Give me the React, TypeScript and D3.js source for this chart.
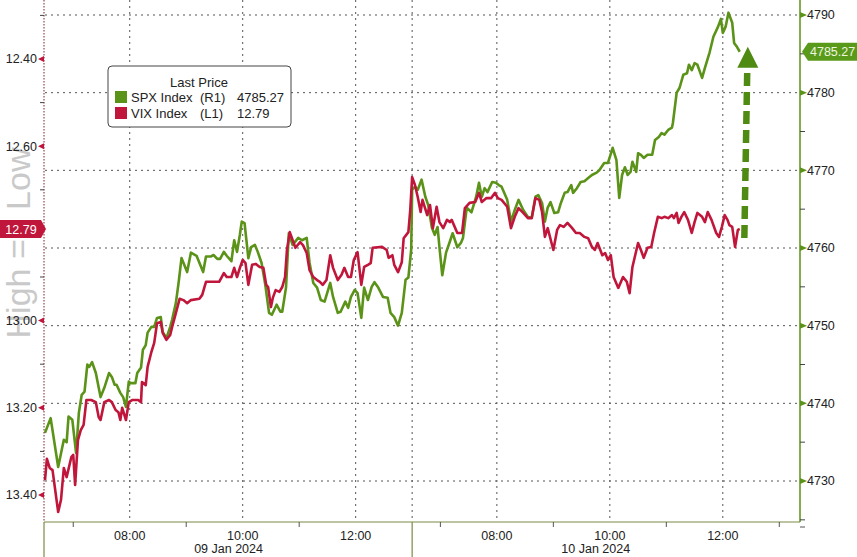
import * as d3 from "d3";

// time = minutes since 09 Jan 06:30 (10 Jan session opens at 390)
const spx: [number, number][] = [
  [0, 4736.2], [6, 4738.1], [14, 4731.8], [20, 4735.3], [23, 4735.0], [25, 4738.3], [29, 4737.9],
  [33, 4733.6], [36, 4738.8], [39, 4741.1], [42, 4741.5], [45, 4745.0], [47, 4744.7], [50, 4745.3],
  [54, 4743.9], [59, 4740.8], [63, 4742.0], [68, 4743.9], [71, 4743.4], [74, 4742.4], [76, 4742.4],
  [80, 4741.35], [83, 4740.8], [86, 4739.55], [89, 4742.8], [91, 4742.6], [96, 4742.6], [98, 4743.9],
  [102, 4744.6], [104, 4746.9], [107, 4747.5], [109, 4749.1], [113, 4749.85], [116, 4749.85],
  [119, 4751.0], [123, 4751.1], [125, 4749.2], [129, 4748.4], [133, 4749.85], [135, 4750.75],
  [139, 4752.9], [142, 4755.6], [145, 4758.7], [151, 4756.9], [155, 4759.4], [161, 4759.0],
  [164, 4758.1], [168, 4756.9], [171, 4758.9], [176, 4758.9], [179, 4759.1], [183, 4758.6],
  [186, 4758.6], [190, 4759.5], [193, 4759.0], [198, 4758.3], [201, 4761.0], [204, 4759.5],
  [207, 4761.7], [209, 4763.4], [212, 4763.2], [216, 4758.7], [219, 4760.1], [223, 4760.4],
  [226, 4759.5], [230, 4758.1], [234, 4755.25], [238, 4751.65], [241, 4751.4], [246, 4752.7],
  [250, 4751.8], [252, 4751.8], [256, 4754.9], [259, 4761.9], [263, 4760.4], [269, 4761.3],
  [273, 4761.0], [278, 4761.3], [281, 4758.1], [285, 4755.5], [289, 4754.9], [293, 4753.3],
  [297, 4753.1], [303, 4755.5], [306, 4753.7], [311, 4751.65], [314, 4751.8], [319, 4753.1],
  [322, 4752.3], [325, 4753.7], [329, 4754.6], [332, 4754.2], [336, 4751.0], [339, 4754.9],
  [343, 4753.3], [347, 4755.0], [350, 4755.6], [354, 4754.9], [359, 4753.7], [364, 4753.6],
  [367, 4751.65], [371, 4751.1], [375, 4750.0], [379, 4751.65], [383, 4755.9], [386, 4756.2],
  [389, 4759.8], [390, 4767.5], [393, 4767.9], [396, 4767.5], [400, 4768.8], [404, 4766.6],
  [407, 4765.55], [411, 4762.6], [414, 4761.7], [417, 4762.7], [419, 4760.1], [422, 4756.5],
  [426, 4759.4], [430, 4760.8], [433, 4761.9], [438, 4760.1], [442, 4760.7], [444, 4761.3],
  [448, 4765.2], [453, 4764.6], [458, 4766.6], [461, 4768.4], [464, 4766.6], [467, 4767.7],
  [470, 4767.2], [475, 4768.5], [479, 4768.4], [482, 4768.1], [485, 4767.9], [491, 4766.2],
  [495, 4763.4], [499, 4764.9], [503, 4766.2], [508, 4764.9], [513, 4764.0], [517, 4763.9],
  [521, 4766.6], [524, 4766.8], [528, 4765.8], [531, 4763.4], [534, 4765.2], [537, 4765.9],
  [541, 4764.5], [545, 4764.6], [548, 4765.8], [552, 4767.1], [555, 4767.2], [559, 4768.1],
  [561, 4767.1], [565, 4767.7], [569, 4768.5], [573, 4768.6], [577, 4769.0], [581, 4769.4],
  [586, 4769.7], [589, 4770.05], [594, 4770.95], [598, 4770.95], [603, 4772.9], [607, 4771.3],
  [610, 4766.45], [613, 4769.4], [616, 4770.4], [619, 4769.4], [622, 4769.8], [624, 4771.1],
  [628, 4769.8], [630, 4772.2], [633, 4772.0], [636, 4771.6], [640, 4772.0], [645, 4772.0],
  [648, 4773.9], [652, 4774.3], [655, 4774.8], [658, 4774.6], [662, 4775.2], [666, 4775.5],
  [667, 4776.1], [671, 4780.0], [674, 4780.6], [678, 4782.3], [682, 4782.5], [684, 4783.6],
  [687, 4782.9], [690, 4783.8], [693, 4783.6], [698, 4781.9], [701, 4783.2], [706, 4785.2],
  [710, 4787.2], [715, 4788.5], [718, 4789.5], [720, 4787.7], [723, 4788.5], [726, 4790.3],
  [730, 4789.0], [732, 4786.4], [735, 4785.9], [738, 4785.27],
];

const vix: [number, number][] = [
  [0, 13.366], [2, 13.317], [5, 13.338], [8, 13.343], [14, 13.439], [17, 13.411], [20, 13.338],
  [23, 13.359], [28, 13.313], [30, 13.308], [32, 13.377], [35, 13.274], [38, 13.251], [41, 13.239],
  [44, 13.182], [49, 13.182], [54, 13.187], [57, 13.221], [59, 13.228], [63, 13.187], [68, 13.182],
  [71, 13.187], [75, 13.205], [78, 13.21], [80, 13.228], [82, 13.2], [86, 13.228], [89, 13.187],
  [93, 13.182], [99, 13.182], [102, 13.187], [103, 13.141], [107, 13.148], [109, 13.106],
  [113, 13.072], [116, 13.051], [119, 13.006], [123, 13.003], [125, 13.028], [129, 13.044],
  [133, 13.033], [135, 13.015], [139, 12.983], [143, 12.95], [147, 12.953], [151, 12.96],
  [155, 12.953], [164, 12.95], [167, 12.941], [171, 12.911], [185, 12.911], [190, 12.891],
  [193, 12.9], [198, 12.9], [201, 12.879], [204, 12.9], [207, 12.879], [210, 12.861], [213, 12.868],
  [216, 12.918], [220, 12.872], [224, 12.87], [228, 12.877], [232, 12.879], [235, 12.918],
  [237, 12.923], [240, 12.969], [242, 12.948], [245, 12.93], [249, 12.934], [252, 12.923],
  [255, 12.9], [257, 12.838], [260, 12.797], [266, 12.833], [271, 12.82], [274, 12.827],
  [278, 12.845], [281, 12.884], [285, 12.9], [289, 12.907], [292, 12.911], [295, 12.918],
  [299, 12.907], [303, 12.85], [306, 12.879], [311, 12.907], [315, 12.895], [318, 12.879],
  [322, 12.9], [325, 12.9], [328, 12.861], [332, 12.843], [336, 12.918], [339, 12.877],
  [343, 12.872], [346, 12.868], [348, 12.833], [358, 12.831], [363, 12.838], [365, 12.856],
  [369, 12.85], [371, 12.872], [375, 12.889], [379, 12.866], [381, 12.811], [386, 12.797],
  [388, 12.746], [390, 12.671], [393, 12.689], [396, 12.717], [399, 12.751], [401, 12.723],
  [406, 12.758], [409, 12.735], [412, 12.788], [416, 12.739], [419, 12.774], [423, 12.788],
  [427, 12.769], [430, 12.774], [432, 12.769], [438, 12.799], [443, 12.799], [446, 12.742],
  [451, 12.73], [457, 12.728], [461, 12.707], [464, 12.728], [469, 12.719], [474, 12.719],
  [478, 12.707], [481, 12.719], [485, 12.723], [491, 12.739], [495, 12.788], [499, 12.762],
  [503, 12.742], [508, 12.753], [513, 12.765], [517, 12.765], [521, 12.719], [525, 12.723],
  [528, 12.751], [531, 12.808], [534, 12.788], [540, 12.838], [544, 12.792], [547, 12.781],
  [551, 12.785], [555, 12.776], [560, 12.788], [564, 12.799], [568, 12.799], [573, 12.808],
  [577, 12.811], [581, 12.831], [584, 12.838], [587, 12.822], [592, 12.85], [595, 12.845],
  [598, 12.861], [601, 12.85], [604, 12.9], [609, 12.925], [614, 12.9], [618, 12.911],
  [621, 12.937], [624, 12.877], [630, 12.822], [633, 12.838], [636, 12.856], [640, 12.833],
  [644, 12.831], [647, 12.799], [651, 12.762], [655, 12.765], [658, 12.762], [662, 12.765],
  [666, 12.758], [668, 12.765], [671, 12.753], [673, 12.776], [676, 12.762], [679, 12.751],
  [683, 12.769], [687, 12.799], [690, 12.774], [693, 12.753], [698, 12.762], [701, 12.774],
  [704, 12.751], [708, 12.769], [713, 12.799], [716, 12.808], [719, 12.785], [722, 12.758],
  [725, 12.769], [727, 12.781], [730, 12.785], [733, 12.831], [736, 12.792], [738, 12.79],
];

const timeTicks = [90, 210, 330, 480, 600, 720];
const timeLabels = ["08:00", "10:00", "12:00", "08:00", "10:00", "12:00"];
const minorTimeTicks = [30, 150, 270, 420, 540, 660, 780];
const dayBreak = 390;
const dayLabels = ["09 Jan 2024", "10 Jan 2024"];
const dayCenters = [195, 585];

const spxTicks = [4730, 4740, 4750, 4760, 4770, 4780, 4790];
const spxMinor = [4725, 4735, 4745, 4755, 4765, 4775, 4785];
const vixTicks = [12.4, 12.6, 13.0, 13.2, 13.4];
const vixMinor = [12.3, 12.5, 12.7, 12.9, 13.1, 13.3];

const legendRows = [
  { name: "SPX Index", axis: "(R1)", last: "4785.27" },
  { name: "VIX Index", axis: "(L1)", last: "12.79" },
];
const lastSpx = 4785.27;
const lastVix = 12.79;

const W = 857;
const H = 557;
const left = 45;
const right = 800;
const bottom = 522;

const GREEN = "#5b9218";
const RED = "#c0163b";
const FONT = "Liberation Sans, Arial, sans-serif";

export default function App() {
  const x = d3.scaleLinear().domain([0, 802]).range([left, right]);
  const ySpx = d3.scaleLinear().domain([4730, 4790]).range([481, 15]);
  const yVix = d3.scaleLinear().domain([12.4, 13.4]).range([59, 495]);

  const spxLine = d3
    .line<[number, number]>()
    .x((d) => x(d[0]))
    .y((d) => ySpx(d[1]));
  const vixLine = d3
    .line<[number, number]>()
    .x((d) => x(d[0]))
    .y((d) => yVix(d[1]));

  const spxTagY = ySpx(lastSpx);
  const vixTagY = yVix(lastVix);

  // arrow spans from the last VIX level up towards the last SPX level
  const arrowX = x(745);
  const arrowBottom = yVix(lastVix) + 9;
  const arrowTip = ySpx(lastSpx) - 5;

  const legendColors = [GREEN, RED];

  return (
    <svg
      width={W}
      height={H}
      style={{ position: "absolute", left: 0, top: 0, background: "#fff" }}
      fontFamily={FONT}
    >
      <rect width={W} height={H} fill="#fff" />

      {/* grid */}
      {spxTicks.map((t) => (
        <line
          key={"hg" + t}
          x1={left}
          x2={right}
          y1={ySpx(t)}
          y2={ySpx(t)}
          stroke="#555"
          strokeDasharray="2 4"
        />
      ))}
      {[...timeTicks, dayBreak].map((t) => (
        <line
          key={"vg" + t}
          x1={x(t)}
          x2={x(t)}
          y1={0}
          y2={bottom}
          stroke="#555"
          strokeDasharray="2 4"
        />
      ))}

      {/* watermark */}
      <text
        transform={`translate(30, 243) rotate(-90)`}
        textAnchor="middle"
        fontSize={34}
        fill="#c9c9c9"
      >
        {"High => Low"}
      </text>

      {/* series */}
      <path d={spxLine(spx) ?? ""} fill="none" stroke={GREEN} strokeWidth={2.6} strokeLinejoin="round" />
      <path d={vixLine(vix) ?? ""} fill="none" stroke={RED} strokeWidth={2.6} strokeLinejoin="round" />

      {/* arrow */}
      <line
        x1={arrowX - 2}
        y1={arrowBottom}
        x2={arrowX + 1}
        y2={arrowTip + 18}
        stroke="#4f8a12"
        strokeWidth={6.5}
        strokeDasharray="13 6"
      />
      <polygon
        points={`${arrowX + 1.5},${arrowTip} ${arrowX + 12},${arrowTip + 21} ${arrowX - 9},${arrowTip + 21}`}
        fill="#4f8a12"
      />

      {/* left axis */}
      <line x1={left - 1} x2={left - 1} y1={0} y2={bottom} stroke="#7a2030" strokeDasharray="1.5 1.5" />
      {vixMinor.map((t) => (
        <line key={"vm" + t} x1={left - 5} x2={left - 1} y1={yVix(t)} y2={yVix(t)} stroke="#444" />
      ))}
      {vixTicks.map((t) => (
        <g key={"vt" + t}>
          <polygon
            points={`${left - 7},${yVix(t)} ${left - 1},${yVix(t) - 3} ${left - 1},${yVix(t) + 3}`}
            fill={RED}
          />
          <text x={left - 8} y={yVix(t)} dy="0.35em" textAnchor="end" fontSize={12.5} fill="#222">
            {t.toFixed(2)}
          </text>
        </g>
      ))}
      <path
        d={`M0,${vixTagY - 9} H${left - 4} L${left + 1},${vixTagY} L${left - 4},${vixTagY + 9} H0 Z`}
        fill={RED}
      />
      <text x={21} y={vixTagY} dy="0.36em" textAnchor="middle" fontSize={12.5} fill="#fff">
        {lastVix.toFixed(2)}
      </text>

      {/* right axis */}
      <line x1={right} x2={right} y1={0} y2={bottom} stroke={GREEN} strokeWidth={1.5} />
      {spxMinor.map((t) => (
        <line key={"sm" + t} x1={right} x2={right + 5} y1={ySpx(t)} y2={ySpx(t)} stroke="#444" />
      ))}
      {spxTicks.map((t) => (
        <g key={"st" + t}>
          <polygon
            points={`${right + 7},${ySpx(t)} ${right},${ySpx(t) - 3} ${right},${ySpx(t) + 3}`}
            fill={GREEN}
          />
          <text x={right + 7} y={ySpx(t)} dy="0.35em" fontSize={12.5} fill="#222">
            {t}
          </text>
        </g>
      ))}
      <path
        d={`M${right + 2},${spxTagY} L${right + 8},${spxTagY - 9} H${W} V${spxTagY + 9} H${right + 8} Z`}
        fill="#5a9a1a"
      />
      <text x={right + 10} y={spxTagY} dy="0.36em" fontSize={12.5} fill="#eef6e0">
        {lastSpx.toFixed(2)}
      </text>

      {/* bottom axis */}
      <line x1={left - 1} x2={right} y1={bottom} y2={bottom} stroke="#7d8a45" strokeWidth={1.2} />
      {[left - 1, x(dayBreak)].map((px, i) => (
        <line key={"sep" + i} x1={px} x2={px} y1={bottom} y2={H} stroke="#7d8a45" strokeWidth={1.2} />
      ))}
      {minorTimeTicks.map((t) => (
        <line key={"mt" + t} x1={x(t)} x2={x(t)} y1={bottom} y2={bottom + 5} stroke="#555" />
      ))}
      <line x1={right} x2={right + 5} y1={bottom + 5} y2={bottom + 5} stroke="#555" />
      {timeTicks.map((t, i) => (
        <text key={"tl" + t} x={x(t)} y={540} textAnchor="middle" fontSize={12.5} fill="#222">
          {timeLabels[i]}
        </text>
      ))}
      {dayLabels.map((l, i) => (
        <text key={l} x={x(dayCenters[i])} y={553} textAnchor="middle" fontSize={12.5} fill="#222">
          {l}
        </text>
      ))}

      {/* legend */}
      <rect x={108} y={66} width={183} height={61} rx={4} fill="#fff" stroke="#444" />
      <text x={199} y={87} textAnchor="middle" fontSize={13} fill="#222">
        Last Price
      </text>
      {legendRows.map((r, i) => (
        <g key={r.name} transform={`translate(0, ${i * 16})`}>
          <rect x={115} y={91} width={12} height={12} fill={legendColors[i]} />
          <text y={102} fontSize={13} fill="#222">
            <tspan x={131}>{r.name}</tspan>
            <tspan x={200}>{r.axis}</tspan>
            <tspan x={237}>{r.last}</tspan>
          </text>
        </g>
      ))}
    </svg>
  );
}
